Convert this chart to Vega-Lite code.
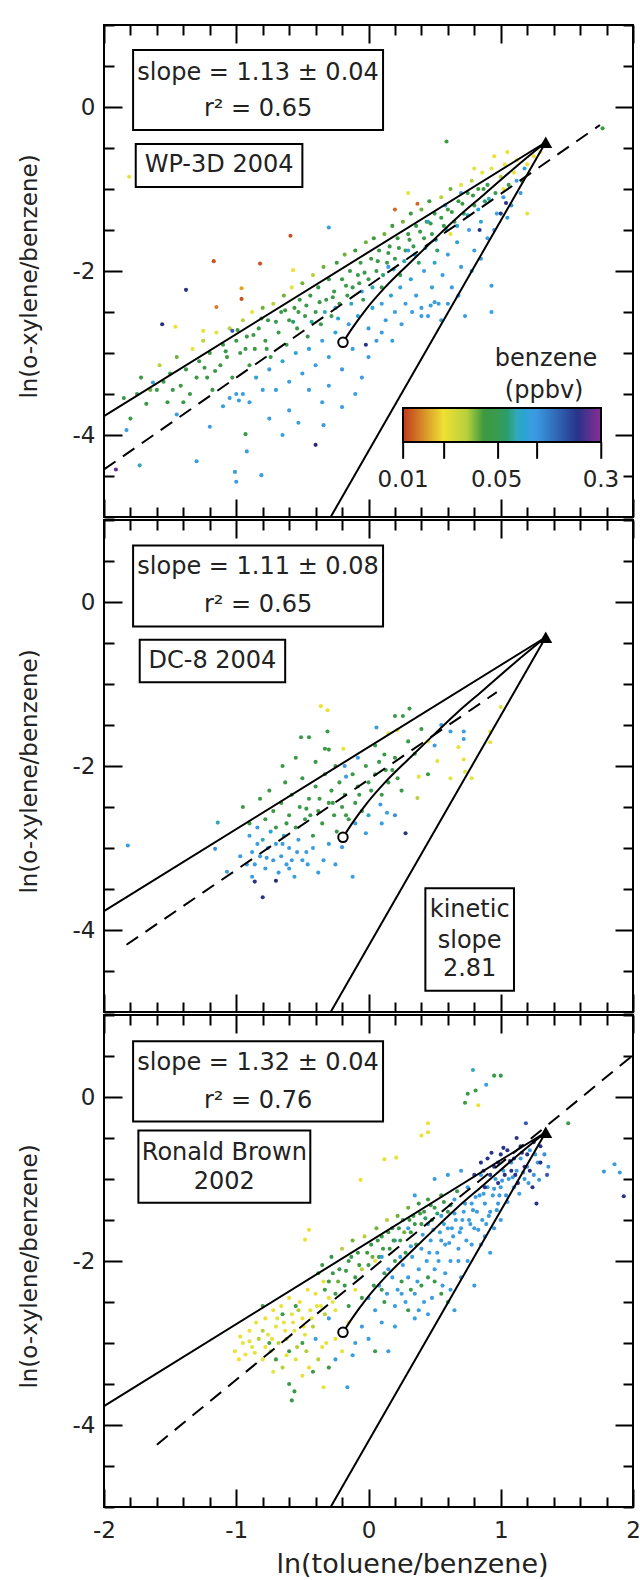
{
  "$schema": "https://vega.github.io/schema/vega-lite/v6.json",
  "padding": {"left": 17, "top": 13, "right": 6, "bottom": 0},
  "background": "white",
  "spacing": 3,
  "bounds": "flush",
  "config": {
    "view": {"stroke": "black", "strokeWidth": 2},
    "font": "DejaVu Sans",
    "axis": {"domain": false, "grid": false, "tickColor": "black", "tickWidth": 2, "labelColor": "#222", "labelFontSize": 23, "titleFontSize": 25, "titleFontWeight": "normal", "titleColor": "#222", "labelOverlap": false, "labelFlush": false},
    "axisLeft": {"titleFontSize": 23, "titleY": 251},
    "axisBottom": {"titleFontSize": 27, "titleX": 308}
  },
  "resolve": {"scale": {"color": "independent"}, "legend": {"color": "independent"}},
  "datasets": {
    "guides": [
      {"id": "mix", "x": -2, "y": -3.77}, {"id": "mix", "x": 1.34, "y": -0.43},
      {"id": "kin", "x": -0.286, "y": -5}, {"id": "kin", "x": 1.34, "y": -0.43}
    ],
    "curve": [
      {"x": -0.193, "y": -2.87}, {"x": -0.12, "y": -2.69}, {"x": -0.02, "y": -2.47}, {"x": 0.125, "y": -2.2},
      {"x": 0.3, "y": -1.92}, {"x": 0.467, "y": -1.66}, {"x": 0.67, "y": -1.35}, {"x": 0.872, "y": -1.07},
      {"x": 1.1, "y": -0.75}, {"x": 1.34, "y": -0.43}
    ],
    "circ": [{"x": -0.193, "y": -2.87}],
    "tri": [{"x": 1.34, "y": -0.43}],
    "dash1": [{"x": -2, "y": -4.42}, {"x": 1.75, "y": -0.22}],
    "dash2": [{"x": -1.83, "y": -4.18}, {"x": 0.97, "y": -1.1}],
    "dash3": [{"x": -1.6, "y": -4.24}, {"x": 2.0, "y": 0.51}],
    "boxes1": [{"x1": -1.78, "x2": 0.11, "y1": 0.695, "y2": -0.28}, {"x1": -1.76, "x2": -0.5, "y1": -0.45, "y2": -0.976}],
    "boxes2": [{"x1": -1.78, "x2": 0.11, "y1": 0.69, "y2": -0.3}, {"x1": -1.73, "x2": -0.63, "y1": -0.46, "y2": -0.98}, {"x1": 0.43, "x2": 1.1, "y1": -3.49, "y2": -4.74}],
    "boxes3": [{"x1": -1.78, "x2": 0.11, "y1": 0.68, "y2": -0.3}, {"x1": -1.74, "x2": -0.44, "y1": -0.41, "y2": -1.29}],
    "texts1": [
      {"x": -0.835, "y": 0.41, "t": "slope = 1.13 ± 0.04"}, {"x": -0.835, "y": -0.03, "t": "r² = 0.65"},
      {"x": -1.13, "y": -0.71, "t": "WP-3D 2004"}, {"x": 1.343, "y": -3.07, "t": "benzene"}, {"x": 1.328, "y": -3.46, "t": "(ppbv)"}
    ],
    "texts2": [
      {"x": -0.835, "y": 0.43, "t": "slope = 1.11 ± 0.08"}, {"x": -0.835, "y": -0.04, "t": "r² = 0.65"},
      {"x": -1.18, "y": -0.72, "t": "DC-8 2004"}, {"x": 0.765, "y": -3.76, "t": "kinetic"}, {"x": 0.765, "y": -4.13, "t": "slope"}, {"x": 0.765, "y": -4.48, "t": "2.81"}
    ],
    "texts3": [
      {"x": -0.835, "y": 0.41, "t": "slope = 1.32 ± 0.04"}, {"x": -0.835, "y": -0.05, "t": "r² = 0.76"},
      {"x": -1.09, "y": -0.68, "t": "Ronald Brown"}, {"x": -1.09, "y": -1.04, "t": "2002"}
    ],
    "cbticks": [
      {"x": 0.262, "y": -4.085, "y2": -4.29}, {"x": 0.572, "y": -4.085, "y2": -4.29}, {"x": 0.98, "y": -4.085, "y2": -4.29},
      {"x": 1.275, "y": -4.085, "y2": -4.29}, {"x": 1.76, "y": -4.085, "y2": -4.29}
    ],
    "p1": [
      {"x":-1.85,"y":-3.55,"b":0.045},{"x":-1.8,"y":-3.8,"b":0.045},{"x":-1.72,"y":-3.3,"b":0.045},{"x":-1.68,"y":-3.62,"b":0.045},{"x":-1.65,"y":-3.45,"b":0.035},
      {"x":-1.58,"y":-3.15,"b":0.03},{"x":-1.55,"y":-3.35,"b":0.045},{"x":-1.52,"y":-3.6,"b":0.045},{"x":-1.5,"y":-3.25,"b":0.045},
      {"x":-1.45,"y":-3.05,"b":0.035},{"x":-1.42,"y":-3.4,"b":0.045},{"x":-1.38,"y":-3.2,"b":0.045},{"x":-1.35,"y":-3.5,"b":0.045},{"x":-1.33,"y":-2.95,"b":0.025},
      {"x":-1.28,"y":-3.1,"b":0.045},{"x":-1.25,"y":-2.85,"b":0.03},{"x":-1.22,"y":-3.3,"b":0.045},{"x":-1.2,"y":-3.0,"b":0.04},{"x":-1.18,"y":-3.45,"b":0.045},{"x":-1.15,"y":-2.75,"b":0.025},
      {"x":-1.12,"y":-3.15,"b":0.045},{"x":-1.1,"y":-2.9,"b":0.045},{"x":-1.07,"y":-3.05,"b":0.04},{"x":-1.05,"y":-2.7,"b":0.03},{"x":-1.03,"y":-3.3,"b":0.045},{"x":-1.0,"y":-2.85,"b":0.045},
      {"x":-0.97,"y":-3.0,"b":0.045},{"x":-0.95,"y":-2.6,"b":0.03},{"x":-0.92,"y":-2.8,"b":0.045},{"x":-0.9,"y":-3.15,"b":0.045},{"x":-0.88,"y":-2.5,"b":0.025},{"x":-0.86,"y":-2.95,"b":0.04},
      {"x":-0.83,"y":-2.7,"b":0.045},{"x":-0.8,"y":-2.45,"b":0.035},{"x":-0.78,"y":-2.85,"b":0.045},{"x":-0.76,"y":-2.6,"b":0.045},{"x":-0.74,"y":-3.05,"b":0.045},{"x":-0.72,"y":-2.4,"b":0.03},
      {"x":-0.68,"y":-2.75,"b":0.045},{"x":-0.66,"y":-2.5,"b":0.045},{"x":-0.64,"y":-2.3,"b":0.035},{"x":-0.62,"y":-2.9,"b":0.045},{"x":-0.6,"y":-2.6,"b":0.045},{"x":-0.58,"y":-2.2,"b":0.025},{"x":-0.56,"y":-2.45,"b":0.045},
      {"x":-0.54,"y":-2.7,"b":0.045},{"x":-0.52,"y":-2.35,"b":0.045},{"x":-0.5,"y":-2.15,"b":0.035},{"x":-0.48,"y":-2.55,"b":0.045},{"x":-0.46,"y":-2.8,"b":0.045},{"x":-0.44,"y":-2.3,"b":0.045},{"x":-0.42,"y":-2.05,"b":0.03},
      {"x":-0.4,"y":-2.5,"b":0.045},{"x":-0.38,"y":-2.2,"b":0.045},{"x":-0.36,"y":-2.65,"b":0.045},{"x":-0.34,"y":-1.95,"b":0.035},{"x":-0.32,"y":-2.35,"b":0.045},{"x":-0.3,"y":-2.1,"b":0.045},{"x":-0.28,"y":-2.55,"b":0.05},
      {"x":-0.26,"y":-2.25,"b":0.045},{"x":-0.24,"y":-1.9,"b":0.04},{"x":-0.22,"y":-2.4,"b":0.045},{"x":-0.2,"y":-2.1,"b":0.045},{"x":-0.18,"y":-1.8,"b":0.035},{"x":-0.16,"y":-2.3,"b":0.05},{"x":-0.14,"y":-2.0,"b":0.045},
      {"x":-0.12,"y":-2.2,"b":0.045},{"x":-0.1,"y":-1.75,"b":0.04},{"x":-0.08,"y":-2.05,"b":0.045},{"x":-0.06,"y":-1.9,"b":0.045},{"x":-0.04,"y":-2.35,"b":0.05},{"x":-0.02,"y":-1.65,"b":0.035},{"x":0.0,"y":-2.1,"b":0.045},
      {"x":0.02,"y":-1.85,"b":0.045},{"x":0.04,"y":-1.6,"b":0.04},{"x":0.06,"y":-2.0,"b":0.045},{"x":0.08,"y":-1.75,"b":0.045},{"x":0.1,"y":-2.2,"b":0.055},{"x":0.12,"y":-1.55,"b":0.035},{"x":0.14,"y":-1.9,"b":0.045},
      {"x":0.16,"y":-1.7,"b":0.045},{"x":0.18,"y":-1.45,"b":0.04},{"x":0.2,"y":-1.85,"b":0.05},{"x":0.22,"y":-1.6,"b":0.045},{"x":0.24,"y":-2.05,"b":0.055},{"x":0.26,"y":-1.4,"b":0.035},{"x":0.28,"y":-1.75,"b":0.045},
      {"x":0.3,"y":-1.55,"b":0.045},{"x":0.32,"y":-1.3,"b":0.04},{"x":0.34,"y":-1.7,"b":0.05},{"x":0.36,"y":-1.45,"b":0.045},{"x":0.38,"y":-1.9,"b":0.06},{"x":0.4,"y":-1.25,"b":0.035},{"x":0.42,"y":-1.6,"b":0.045},
      {"x":0.44,"y":-1.4,"b":0.045},{"x":0.46,"y":-1.15,"b":0.04},{"x":0.48,"y":-1.55,"b":0.05},{"x":0.5,"y":-1.3,"b":0.045},{"x":0.52,"y":-1.75,"b":0.06},{"x":0.55,"y":-1.1,"b":0.03},{"x":0.57,"y":-1.45,"b":0.045},
      {"x":0.6,"y":-1.25,"b":0.045},{"x":0.62,"y":-1.0,"b":0.035},{"x":0.65,"y":-1.4,"b":0.05},{"x":0.68,"y":-1.15,"b":0.045},{"x":0.7,"y":-0.95,"b":0.025},{"x":0.72,"y":-1.3,"b":0.06},
      {"x":0.75,"y":-1.05,"b":0.045},{"x":0.78,"y":-0.9,"b":0.03},{"x":0.8,"y":-1.2,"b":0.05},{"x":0.83,"y":-1.0,"b":0.04},{"x":0.86,"y":-0.8,"b":0.025},{"x":0.88,"y":-1.15,"b":0.06},
      {"x":0.9,"y":-0.95,"b":0.045},{"x":0.93,"y":-0.75,"b":0.025},{"x":0.96,"y":-1.05,"b":0.05},{"x":1.0,"y":-0.85,"b":0.03},{"x":1.03,"y":-0.7,"b":0.022},{"x":1.06,"y":-0.95,"b":0.045},
      {"x":1.1,"y":-0.8,"b":0.025},{"x":1.12,"y":-0.65,"b":0.02},{"x":1.16,"y":-0.9,"b":0.04},{"x":1.2,"y":-0.7,"b":0.022},{"x":1.25,"y":-0.6,"b":0.02},{"x":1.02,"y":-1.0,"b":0.022},
      {"x":-1.05,"y":-3.55,"b":0.09},{"x":-1.0,"y":-3.5,"b":0.09},{"x":-0.98,"y":-3.58,"b":0.09},{"x":-0.95,"y":-3.5,"b":0.09},{"x":-0.9,"y":-3.6,"b":0.09},
      {"x":-0.85,"y":-3.3,"b":0.08},{"x":-0.75,"y":-3.2,"b":0.09},{"x":-0.7,"y":-3.45,"b":0.09},{"x":-0.65,"y":-3.1,"b":0.08},{"x":-0.6,"y":-3.35,"b":0.09},{"x":-0.55,"y":-3.0,"b":0.08},
      {"x":-0.5,"y":-3.25,"b":0.09},{"x":-0.45,"y":-2.95,"b":0.08},{"x":-0.4,"y":-3.15,"b":0.09},{"x":-0.35,"y":-2.85,"b":0.085},{"x":-0.3,"y":-3.05,"b":0.09},{"x":-0.25,"y":-2.75,"b":0.08},
      {"x":-0.2,"y":-3.2,"b":0.1},{"x":-0.15,"y":-2.65,"b":0.085},{"x":-0.12,"y":-2.95,"b":0.09},{"x":-0.08,"y":-2.55,"b":0.08},{"x":-0.05,"y":-3.3,"b":0.09},{"x":0.0,"y":-2.7,"b":0.09},
      {"x":0.03,"y":-2.45,"b":0.08},{"x":0.06,"y":-2.85,"b":0.1},{"x":0.1,"y":-2.4,"b":0.085},{"x":0.13,"y":-2.6,"b":0.09},{"x":0.17,"y":-2.3,"b":0.08},{"x":0.2,"y":-2.5,"b":0.09},
      {"x":0.24,"y":-2.2,"b":0.085},{"x":0.28,"y":-2.4,"b":0.09},{"x":0.32,"y":-2.1,"b":0.08},{"x":0.36,"y":-2.3,"b":0.09},{"x":0.4,"y":-2.45,"b":0.09},{"x":0.42,"y":-2.0,"b":0.085},
      {"x":0.45,"y":-2.55,"b":0.09},{"x":0.48,"y":-2.2,"b":0.09},{"x":0.5,"y":-1.9,"b":0.08},{"x":0.53,"y":-2.4,"b":0.09},{"x":0.56,"y":-2.05,"b":0.09},{"x":0.6,"y":-1.8,"b":0.085},
      {"x":0.63,"y":-2.2,"b":0.09},{"x":0.67,"y":-1.65,"b":0.08},{"x":0.7,"y":-1.95,"b":0.09},{"x":0.73,"y":-2.55,"b":0.09},{"x":0.76,"y":-1.5,"b":0.085},{"x":0.8,"y":-1.75,"b":0.09},
      {"x":0.85,"y":-1.4,"b":0.08},{"x":0.9,"y":-1.6,"b":0.09},{"x":0.93,"y":-2.18,"b":0.09},{"x":0.93,"y":-2.5,"b":0.09},{"x":0.97,"y":-1.3,"b":0.085},{"x":1.02,"y":-1.1,"b":0.09},
      {"x":1.08,"y":-1.2,"b":0.1},{"x":1.12,"y":-0.9,"b":0.085},{"x":1.18,"y":-0.75,"b":0.08},{"x":0.7,"y":-1.05,"b":0.09},{"x":0.58,"y":-1.2,"b":0.09},{"x":0.45,"y":-1.4,"b":0.08},
      {"x":0.3,"y":-1.75,"b":0.085},{"x":0.15,"y":-1.95,"b":0.09},{"x":-0.05,"y":-2.25,"b":0.085},{"x":-0.25,"y":-2.45,"b":0.09},
      {"x":1.04,"y":-1.17,"b":0.2},{"x":1.0,"y":-1.3,"b":0.2},{"x":0.84,"y":-1.5,"b":0.2},{"x":-0.02,"y":-2.9,"b":0.2},{"x":-0.4,"y":-4.12,"b":0.25},{"x":-1.91,"y":-4.42,"b":0.28},
      {"x":-1.38,"y":-2.23,"b":0.2},{"x":-1.56,"y":-2.65,"b":0.22},{"x":-1.03,"y":-2.73,"b":0.15},{"x":0.59,"y":-0.42,"b":0.04},{"x":1.77,"y":-0.26,"b":0.045},{"x":-1.81,"y":-0.85,"b":0.025},
      {"x":0.37,"y":-1.18,"b":0.012},{"x":-0.3,"y":-1.47,"b":0.09},{"x":-0.59,"y":-1.57,"b":0.011},{"x":-1.17,"y":-1.88,"b":0.011},{"x":-0.82,"y":-1.91,"b":0.011},{"x":-0.57,"y":-1.99,"b":0.02},
      {"x":-0.96,"y":-2.21,"b":0.015},{"x":-0.96,"y":-2.34,"b":0.011},{"x":-1.15,"y":-2.44,"b":0.013},{"x":-1.46,"y":-2.68,"b":0.02},{"x":-1.25,"y":-2.73,"b":0.02},{"x":0.2,"y":-1.25,"b":0.012},
      {"x":-1.63,"y":-3.36,"b":0.09},{"x":-1.83,"y":-3.94,"b":0.09},{"x":-1.73,"y":-4.37,"b":0.07},{"x":-1.3,"y":-4.32,"b":0.09},{"x":-1.01,"y":-4.45,"b":0.09},{"x":-1.0,"y":-4.57,"b":0.09},
      {"x":-0.81,"y":-4.49,"b":0.09},{"x":-0.93,"y":-3.99,"b":0.045},{"x":-0.92,"y":-4.2,"b":0.09},{"x":-0.65,"y":-4.0,"b":0.09},{"x":-0.53,"y":-3.85,"b":0.09},{"x":-0.34,"y":-3.88,"b":0.09},
      {"x":-0.2,"y":-3.66,"b":0.09},{"x":-0.6,"y":-3.7,"b":0.085},{"x":-0.3,"y":-3.4,"b":0.09},{"x":-0.1,"y":-3.5,"b":0.09},{"x":-1.2,"y":-3.9,"b":0.085},{"x":-1.45,"y":-3.75,"b":0.09},
      {"x":-0.75,"y":-3.8,"b":0.09},{"x":0.18,"y":-2.85,"b":0.09},{"x":0.4,"y":-2.55,"b":0.09},{"x":0.47,"y":-2.42,"b":0.09},{"x":0.5,"y":-2.38,"b":0.09},{"x":0.55,"y":-2.6,"b":0.09},
      {"x":0.95,"y":-0.6,"b":0.02},{"x":1.05,"y":-0.55,"b":0.02},{"x":1.3,"y":-0.55,"b":0.022},{"x":0.8,"y":-0.75,"b":0.025},{"x":1.2,"y":-1.3,"b":0.025},{"x":0.3,"y":-1.05,"b":0.025},{"x":0.62,"y":-1.55,"b":0.02},
      {"x":-0.7,"y":-2.62,"b":0.05},{"x":-0.63,"y":-2.48,"b":0.045},{"x":-0.57,"y":-2.62,"b":0.06},{"x":-0.53,"y":-2.5,"b":0.045},{"x":-0.47,"y":-2.42,"b":0.05},{"x":-0.43,"y":-2.62,"b":0.065},
      {"x":-0.37,"y":-2.38,"b":0.045},{"x":-0.33,"y":-2.5,"b":0.07},{"x":-0.27,"y":-2.32,"b":0.045},{"x":-0.23,"y":-2.58,"b":0.08},{"x":-0.17,"y":-2.18,"b":0.045},{"x":-0.13,"y":-2.4,"b":0.07},
      {"x":-0.07,"y":-2.15,"b":0.045},{"x":-0.03,"y":-2.02,"b":0.05},{"x":0.03,"y":-2.2,"b":0.07},{"x":0.07,"y":-1.88,"b":0.045},{"x":0.11,"y":-2.05,"b":0.06},{"x":0.15,"y":-1.78,"b":0.045},
      {"x":0.19,"y":-1.98,"b":0.08},{"x":0.23,"y":-1.72,"b":0.045},{"x":0.27,"y":-1.88,"b":0.07},{"x":0.31,"y":-1.62,"b":0.045},{"x":0.35,"y":-1.8,"b":0.08},{"x":0.39,"y":-1.52,"b":0.045},
      {"x":0.43,"y":-1.72,"b":0.07},{"x":0.47,"y":-1.42,"b":0.045},{"x":0.51,"y":-1.62,"b":0.08},{"x":0.55,"y":-1.35,"b":0.045},{"x":0.59,"y":-1.5,"b":0.07},{"x":0.63,"y":-1.28,"b":0.045},
      {"x":0.67,"y":-1.45,"b":0.08},{"x":0.71,"y":-1.18,"b":0.045},{"x":0.75,"y":-1.32,"b":0.07},{"x":0.79,"y":-1.08,"b":0.045},{"x":0.83,"y":-1.25,"b":0.08},{"x":0.87,"y":-1.0,"b":0.04},
      {"x":0.91,"y":-1.12,"b":0.07},{"x":-1.3,"y":-3.3,"b":0.045},{"x":-1.24,"y":-3.18,"b":0.05},{"x":-1.16,"y":-3.22,"b":0.045},{"x":-1.08,"y":-2.98,"b":0.045},{"x":-0.99,"y":-2.72,"b":0.04},
      {"x":-0.93,"y":-2.95,"b":0.05},{"x":-0.87,"y":-2.78,"b":0.045},{"x":-0.81,"y":-2.58,"b":0.04},{"x":-0.77,"y":-2.95,"b":0.05},{"x":-1.6,"y":-3.45,"b":0.045},{"x":-1.48,"y":-3.45,"b":0.05},
      {"x":-1.4,"y":-3.6,"b":0.045},{"x":-1.75,"y":-3.5,"b":0.045},{"x":-0.35,"y":-3.6,"b":0.09},{"x":-0.45,"y":-3.45,"b":0.09},{"x":-0.8,"y":-3.45,"b":0.09},{"x":-1.1,"y":-3.65,"b":0.09},
      {"x":0.0,"y":-3.05,"b":0.09},{"x":0.1,"y":-2.75,"b":0.09},{"x":0.25,"y":-2.65,"b":0.09},{"x":0.33,"y":-2.5,"b":0.09},{"x":0.6,"y":-2.4,"b":0.09},{"x":0.68,"y":-2.3,"b":0.09},
      {"x":0.78,"y":-2.0,"b":0.09},{"x":0.85,"y":-1.85,"b":0.09},{"x":0.95,"y":-1.5,"b":0.09},{"x":1.05,"y":-1.35,"b":0.09},{"x":1.15,"y":-1.05,"b":0.09}
    ],
    "p2": [
      {"x":-0.9,"y":-2.85,"b":0.09},{"x":-0.88,"y":-3.05,"b":0.09},{"x":-0.86,"y":-3.2,"b":0.09},{"x":-0.84,"y":-2.95,"b":0.085},{"x":-0.82,"y":-3.1,"b":0.09},{"x":-0.8,"y":-2.9,"b":0.07},
      {"x":-0.78,"y":-3.25,"b":0.09},{"x":-0.76,"y":-3.0,"b":0.09},{"x":-0.74,"y":-2.8,"b":0.08},{"x":-0.72,"y":-3.15,"b":0.1},{"x":-0.7,"y":-2.95,"b":0.09},{"x":-0.68,"y":-3.3,"b":0.09},
      {"x":-0.66,"y":-3.1,"b":0.09},{"x":-0.64,"y":-2.85,"b":0.08},{"x":-0.62,"y":-3.2,"b":0.09},{"x":-0.6,"y":-3.0,"b":0.09},{"x":-0.58,"y":-3.15,"b":0.09},{"x":-0.56,"y":-3.35,"b":0.09},
      {"x":-0.54,"y":-3.05,"b":0.09},{"x":-0.5,"y":-3.15,"b":0.09},{"x":-0.46,"y":-3.2,"b":0.09},{"x":-0.42,"y":-3.0,"b":0.085},{"x":-0.38,"y":-3.3,"b":0.09},{"x":-0.34,"y":-3.15,"b":0.09},
      {"x":-0.3,"y":-2.95,"b":0.09},{"x":-0.25,"y":-3.2,"b":0.09},{"x":-0.2,"y":-2.99,"b":0.09},{"x":-0.12,"y":-3.35,"b":0.09},{"x":-0.86,"y":-3.41,"b":0.2},{"x":-0.8,"y":-3.6,"b":0.2},
      {"x":-1.07,"y":-3.29,"b":0.09},{"x":-1.16,"y":-3.01,"b":0.12},{"x":-1.14,"y":-2.69,"b":0.07},{"x":-1.82,"y":-2.97,"b":0.09},{"x":-0.88,"y":-3.35,"b":0.09},{"x":-0.92,"y":-3.2,"b":0.09},{"x":-0.7,"y":-3.4,"b":0.25},
      {"x":-0.82,"y":-2.4,"b":0.045},{"x":-0.78,"y":-2.65,"b":0.045},{"x":-0.75,"y":-2.3,"b":0.045},{"x":-0.72,"y":-2.55,"b":0.04},{"x":-0.7,"y":-2.75,"b":0.045},{"x":-0.66,"y":-2.45,"b":0.045},
      {"x":-0.63,"y":-2.2,"b":0.045},{"x":-0.6,"y":-2.6,"b":0.045},{"x":-0.58,"y":-2.35,"b":0.04},{"x":-0.55,"y":-2.75,"b":0.045},{"x":-0.52,"y":-2.5,"b":0.045},{"x":-0.5,"y":-2.15,"b":0.045},
      {"x":-0.48,"y":-2.65,"b":0.045},{"x":-0.45,"y":-2.4,"b":0.05},{"x":-0.42,"y":-2.85,"b":0.045},{"x":-0.4,"y":-2.25,"b":0.045},{"x":-0.38,"y":-2.55,"b":0.045},{"x":-0.35,"y":-2.7,"b":0.045},
      {"x":-0.33,"y":-2.1,"b":0.045},{"x":-0.3,"y":-2.45,"b":0.045},{"x":-0.28,"y":-2.3,"b":0.045},{"x":-0.26,"y":-2.6,"b":0.045},{"x":-0.24,"y":-2.8,"b":0.045},{"x":-0.22,"y":-2.2,"b":0.045},
      {"x":-0.2,"y":-2.5,"b":0.045},{"x":-0.18,"y":-2.35,"b":0.05},{"x":-0.15,"y":-2.65,"b":0.045},{"x":-0.12,"y":-2.1,"b":0.045},{"x":-0.1,"y":-2.45,"b":0.045},{"x":-0.08,"y":-2.25,"b":0.045},
      {"x":-0.05,"y":-2.55,"b":0.045},{"x":-0.02,"y":-2.0,"b":0.045},{"x":0.02,"y":-2.3,"b":0.045},{"x":0.05,"y":-2.1,"b":0.045},{"x":0.08,"y":-1.95,"b":0.045},{"x":0.1,"y":-2.35,"b":0.045},
      {"x":0.12,"y":-1.86,"b":0.045},{"x":0.15,"y":-2.2,"b":0.045},{"x":0.18,"y":-2.05,"b":0.045},{"x":0.2,"y":-1.9,"b":0.045},{"x":0.22,"y":-2.15,"b":0.045},{"x":-0.4,"y":-1.95,"b":0.045},
      {"x":-0.55,"y":-1.9,"b":0.045},{"x":-0.65,"y":-2.0,"b":0.045},{"x":-0.3,"y":-1.8,"b":0.045},{"x":-0.25,"y":-2.0,"b":0.045},{"x":-0.95,"y":-2.5,"b":0.045},{"x":-0.9,"y":-2.7,"b":0.045},
      {"x":-0.36,"y":-1.27,"b":0.02},{"x":-0.31,"y":-1.32,"b":0.02},{"x":-0.51,"y":-1.65,"b":0.045},{"x":-0.45,"y":-1.65,"b":0.045},{"x":-0.31,"y":-1.58,"b":0.045},{"x":-0.33,"y":-1.79,"b":0.045},
      {"x":-0.19,"y":-1.79,"b":0.02},{"x":0.31,"y":-1.3,"b":0.045},{"x":0.2,"y":-1.39,"b":0.045},{"x":0.26,"y":-1.39,"b":0.045},{"x":0.06,"y":-1.53,"b":0.09},{"x":0.22,"y":-1.56,"b":0.025},
      {"x":0.55,"y":-1.5,"b":0.09},{"x":0.62,"y":-1.58,"b":0.09},{"x":0.72,"y":-1.67,"b":0.09},{"x":0.72,"y":-1.58,"b":0.09},{"x":0.68,"y":-1.77,"b":0.022},{"x":0.72,"y":-1.92,"b":0.022},
      {"x":0.92,"y":-1.58,"b":0.025},{"x":0.92,"y":-1.71,"b":0.025},{"x":1.0,"y":-1.28,"b":0.025},{"x":0.52,"y":-1.94,"b":0.025},{"x":0.38,"y":-2.13,"b":0.025},{"x":0.37,"y":-2.39,"b":0.03},
      {"x":0.62,"y":-2.15,"b":0.025},{"x":0.73,"y":-2.07,"b":0.025},{"x":0.78,"y":-2.15,"b":0.025},{"x":0.28,"y":-2.82,"b":0.2},{"x":0.09,"y":-2.47,"b":0.09},{"x":0.14,"y":-2.57,"b":0.09},
      {"x":-0.02,"y":-2.82,"b":0.09},{"x":-0.08,"y":-1.9,"b":0.09},{"x":-0.17,"y":-2.13,"b":0.09},{"x":-0.18,"y":-2.0,"b":0.09},{"x":0.3,"y":-1.7,"b":0.045},{"x":0.35,"y":-1.85,"b":0.045},
      {"x":0.15,"y":-1.6,"b":0.025},{"x":0.05,"y":-1.75,"b":0.045},{"x":0.4,"y":-1.55,"b":0.045},{"x":0.45,"y":-1.7,"b":0.02},{"x":0.1,"y":-2.7,"b":0.09},{"x":-0.1,"y":-2.7,"b":0.09},
      {"x":0.0,"y":-2.6,"b":0.07},{"x":0.25,"y":-2.3,"b":0.045},{"x":0.2,"y":-2.6,"b":0.12},{"x":0.45,"y":-2.1,"b":0.045},{"x":0.5,"y":-1.75,"b":0.09},
      {"x":-0.77,"y":-3.12,"b":0.09},{"x":-0.65,"y":-2.95,"b":0.09},{"x":-0.53,"y":-2.9,"b":0.09},{"x":-0.47,"y":-3.05,"b":0.085},{"x":-0.62,"y":-2.7,"b":0.045},{"x":-0.47,"y":-2.52,"b":0.045},
      {"x":-0.37,"y":-2.4,"b":0.045},{"x":-0.27,"y":-2.45,"b":0.045},{"x":-0.17,"y":-2.6,"b":0.045},{"x":-0.07,"y":-2.35,"b":0.045},{"x":0.0,"y":-2.2,"b":0.045},{"x":0.13,"y":-2.05,"b":0.045},
      {"x":-0.44,"y":-2.6,"b":0.045},{"x":-0.84,"y":-2.75,"b":0.09},{"x":-0.97,"y":-3.1,"b":0.09},{"x":-0.6,"y":-3.25,"b":0.09}
    ],
    "p3": [
      {"x":-1.01,"y":-3.1,"b":0.02},{"x":-0.97,"y":-2.92,"b":0.02},{"x":-0.93,"y":-3.14,"b":0.022},{"x":-0.95,"y":-3.0,"b":0.025},{"x":-0.9,"y":-2.85,"b":0.02},{"x":-0.88,"y":-3.05,"b":0.025},
      {"x":-0.85,"y":-2.75,"b":0.022},{"x":-0.83,"y":-2.95,"b":0.03},{"x":-0.8,"y":-3.2,"b":0.025},{"x":-0.78,"y":-2.7,"b":0.02},{"x":-0.76,"y":-2.9,"b":0.025},{"x":-0.74,"y":-3.1,"b":0.03},
      {"x":-0.72,"y":-2.6,"b":0.022},{"x":-0.7,"y":-2.8,"b":0.025},{"x":-0.68,"y":-3.0,"b":0.03},{"x":-0.66,"y":-2.55,"b":0.02},{"x":-0.64,"y":-2.75,"b":0.025},{"x":-0.62,"y":-2.95,"b":0.03},
      {"x":-0.6,"y":-2.45,"b":0.022},{"x":-0.58,"y":-2.65,"b":0.025},{"x":-0.56,"y":-2.85,"b":0.025},{"x":-0.54,"y":-3.05,"b":0.03},{"x":-0.52,"y":-2.5,"b":0.02},{"x":-0.5,"y":-2.7,"b":0.022},
      {"x":-0.48,"y":-2.9,"b":0.025},{"x":-0.46,"y":-2.35,"b":0.02},{"x":-0.44,"y":-2.6,"b":0.025},{"x":-0.42,"y":-2.8,"b":0.03},{"x":-0.4,"y":-2.4,"b":0.022},{"x":-0.38,"y":-3.2,"b":0.03},
      {"x":-0.36,"y":-2.55,"b":0.025},{"x":-0.34,"y":-2.25,"b":0.02},{"x":-0.32,"y":-3.0,"b":0.025},{"x":-0.3,"y":-2.45,"b":0.02},{"x":-0.55,"y":-3.2,"b":0.025},{"x":-0.65,"y":-3.3,"b":0.03},
      {"x":-0.45,"y":-3.3,"b":0.02},{"x":-0.35,"y":-3.05,"b":0.022},{"x":-0.25,"y":-2.95,"b":0.02},{"x":-0.2,"y":-3.1,"b":0.025},{"x":-0.15,"y":-2.75,"b":0.02},{"x":-0.45,"y":-1.62,"b":0.02},
      {"x":-0.48,"y":-1.74,"b":0.02},{"x":-0.06,"y":-1.01,"b":0.02},{"x":0.12,"y":-0.76,"b":0.022},{"x":0.21,"y":-0.74,"b":0.022},{"x":0.45,"y":-0.32,"b":0.02},{"x":0.45,"y":-0.43,"b":0.02},
      {"x":0.4,"y":-0.47,"b":0.022},{"x":0.83,"y":-0.1,"b":0.02},
      {"x":-0.58,"y":-3.7,"b":0.045},{"x":-0.56,"y":-3.59,"b":0.045},{"x":-0.6,"y":-3.5,"b":0.045},{"x":-0.34,"y":-3.54,"b":0.022},{"x":-0.16,"y":-3.54,"b":0.09},{"x":0.05,"y":-3.1,"b":0.045},
      {"x":-0.7,"y":-3.2,"b":0.045},{"x":-0.6,"y":-3.1,"b":0.045},{"x":-0.5,"y":-3.0,"b":0.045},{"x":-0.42,"y":-3.35,"b":0.045},{"x":-0.3,"y":-3.3,"b":0.045},{"x":-0.2,"y":-2.9,"b":0.045},
      {"x":-0.1,"y":-3.0,"b":0.09},{"x":-0.05,"y":-2.8,"b":0.09},{"x":-0.25,"y":-3.2,"b":0.09},{"x":-0.3,"y":-2.7,"b":0.09},{"x":-0.4,"y":-2.95,"b":0.09},{"x":-0.12,"y":-3.15,"b":0.09},
      {"x":0.0,"y":-2.95,"b":0.09},{"x":-0.65,"y":-2.65,"b":0.045},{"x":-0.55,"y":-2.55,"b":0.045},{"x":-0.8,"y":-2.55,"b":0.045},{"x":-0.75,"y":-3.0,"b":0.045},
      {"x":-0.35,"y":-2.05,"b":0.045},{"x":-0.3,"y":-2.25,"b":0.045},{"x":-0.28,"y":-1.95,"b":0.04},{"x":-0.25,"y":-2.4,"b":0.045},{"x":-0.22,"y":-2.1,"b":0.045},{"x":-0.2,"y":-1.85,"b":0.03},
      {"x":-0.18,"y":-2.3,"b":0.045},{"x":-0.15,"y":-2.0,"b":0.045},{"x":-0.12,"y":-1.75,"b":0.035},{"x":-0.1,"y":-2.2,"b":0.045},{"x":-0.08,"y":-1.9,"b":0.045},{"x":-0.05,"y":-2.45,"b":0.05},
      {"x":-0.03,"y":-1.7,"b":0.03},{"x":0.0,"y":-2.05,"b":0.045},{"x":0.02,"y":-1.8,"b":0.045},{"x":0.04,"y":-2.3,"b":0.05},{"x":0.06,"y":-1.6,"b":0.035},{"x":0.08,"y":-1.95,"b":0.045},
      {"x":0.1,"y":-1.7,"b":0.045},{"x":0.12,"y":-2.15,"b":0.05},{"x":0.14,"y":-1.5,"b":0.03},{"x":0.16,"y":-1.85,"b":0.045},{"x":0.18,"y":-1.6,"b":0.045},{"x":0.2,"y":-2.0,"b":0.05},
      {"x":0.22,"y":-1.45,"b":0.035},{"x":0.24,"y":-1.75,"b":0.045},{"x":0.26,"y":-1.5,"b":0.045},{"x":0.28,"y":-1.9,"b":0.05},{"x":0.3,"y":-1.35,"b":0.035},{"x":0.32,"y":-1.65,"b":0.045},
      {"x":0.34,"y":-1.45,"b":0.045},{"x":0.36,"y":-1.8,"b":0.05},{"x":0.38,"y":-1.3,"b":0.04},{"x":0.4,"y":-1.55,"b":0.045},{"x":0.42,"y":-1.4,"b":0.045},{"x":0.45,"y":-1.25,"b":0.04},
      {"x":0.48,"y":-1.5,"b":0.045},{"x":0.5,"y":-1.35,"b":0.05},{"x":0.55,"y":-1.2,"b":0.045},{"x":0.6,"y":-1.4,"b":0.05},{"x":0.25,"y":-2.25,"b":0.045},{"x":0.32,"y":-2.35,"b":0.045},
      {"x":0.4,"y":-2.3,"b":0.045},{"x":0.45,"y":-2.2,"b":0.045},{"x":0.5,"y":-2.25,"b":0.045},{"x":0.12,"y":-2.5,"b":0.045},{"x":-0.15,"y":-2.55,"b":0.045},{"x":0.1,"y":-2.35,"b":0.05},
      {"x":-0.05,"y":-2.1,"b":0.03},{"x":-0.25,"y":-2.6,"b":0.025},{"x":-0.1,"y":-2.35,"b":0.02},{"x":0.05,"y":-2.0,"b":0.025},
      {"x":0.0,"y":-2.45,"b":0.09},{"x":0.05,"y":-2.6,"b":0.09},{"x":0.08,"y":-2.3,"b":0.085},{"x":0.1,"y":-2.75,"b":0.09},{"x":0.14,"y":-2.4,"b":0.09},{"x":0.18,"y":-2.2,"b":0.085},
      {"x":0.2,"y":-2.55,"b":0.09},{"x":0.22,"y":-2.35,"b":0.09},{"x":0.26,"y":-2.05,"b":0.085},{"x":0.28,"y":-2.5,"b":0.09},{"x":0.3,"y":-2.2,"b":0.09},{"x":0.33,"y":-1.95,"b":0.085},
      {"x":0.35,"y":-2.4,"b":0.09},{"x":0.38,"y":-2.1,"b":0.09},{"x":0.4,"y":-1.85,"b":0.085},{"x":0.42,"y":-2.5,"b":0.09},{"x":0.44,"y":-2.0,"b":0.09},{"x":0.47,"y":-1.75,"b":0.085},
      {"x":0.5,"y":-2.1,"b":0.09},{"x":0.52,"y":-1.9,"b":0.09},{"x":0.54,"y":-1.65,"b":0.085},{"x":0.56,"y":-2.3,"b":0.09},{"x":0.58,"y":-1.8,"b":0.09},{"x":0.6,"y":-1.6,"b":0.085},
      {"x":0.62,"y":-2.0,"b":0.09},{"x":0.64,"y":-1.7,"b":0.09},{"x":0.66,"y":-1.5,"b":0.085},{"x":0.68,"y":-1.85,"b":0.09},{"x":0.7,"y":-1.6,"b":0.09},{"x":0.72,"y":-1.4,"b":0.085},
      {"x":0.74,"y":-1.75,"b":0.09},{"x":0.76,"y":-1.5,"b":0.09},{"x":0.78,"y":-1.3,"b":0.085},{"x":0.8,"y":-1.6,"b":0.09},{"x":0.82,"y":-1.4,"b":0.09},{"x":0.84,"y":-1.2,"b":0.085},
      {"x":0.86,"y":-1.5,"b":0.09},{"x":0.88,"y":-1.3,"b":0.1},{"x":0.9,"y":-1.1,"b":0.09},{"x":0.92,"y":-1.4,"b":0.1},{"x":0.94,"y":-1.2,"b":0.09},{"x":0.96,"y":-1.0,"b":0.09},
      {"x":0.98,"y":-1.3,"b":0.1},{"x":1.0,"y":-1.1,"b":0.09},{"x":1.02,"y":-0.9,"b":0.09},{"x":1.04,"y":-1.2,"b":0.1},{"x":1.06,"y":-1.0,"b":0.09},{"x":1.08,"y":-0.8,"b":0.09},
      {"x":1.1,"y":-1.1,"b":0.1},{"x":1.12,"y":-0.9,"b":0.09},{"x":1.15,"y":-0.75,"b":0.09},{"x":1.18,"y":-1.0,"b":0.1},{"x":1.2,"y":-0.85,"b":0.09},{"x":1.22,"y":-0.65,"b":0.09},
      {"x":1.25,"y":-0.95,"b":0.1},{"x":1.28,"y":-0.8,"b":0.09},{"x":0.3,"y":-1.6,"b":0.09},{"x":0.45,"y":-1.55,"b":0.09},{"x":0.55,"y":-1.45,"b":0.09},{"x":0.65,"y":-1.25,"b":0.09},
      {"x":0.75,"y":-1.1,"b":0.09},{"x":0.85,"y":-0.95,"b":0.09},{"x":0.2,"y":-1.75,"b":0.09},{"x":0.1,"y":-1.95,"b":0.09},{"x":0.35,"y":-1.2,"b":0.09},{"x":0.5,"y":-1.0,"b":0.09},
      {"x":0.6,"y":-0.95,"b":0.09},{"x":0.7,"y":-0.9,"b":0.09},{"x":0.62,"y":-2.35,"b":0.09},{"x":0.7,"y":-2.2,"b":0.09},{"x":0.45,"y":-2.65,"b":0.09},{"x":0.3,"y":-2.6,"b":0.045},
      {"x":0.55,"y":-2.4,"b":0.045},{"x":0.6,"y":-2.5,"b":0.045},{"x":0.35,"y":-2.7,"b":0.09},{"x":0.2,"y":-2.8,"b":0.09},{"x":0.15,"y":-3.1,"b":0.09},{"x":0.75,"y":-2.0,"b":0.09},
      {"x":0.85,"y":-1.8,"b":0.09},{"x":0.95,"y":-1.6,"b":0.09},{"x":1.0,"y":-1.5,"b":0.09},{"x":0.8,"y":-2.3,"b":0.09},{"x":0.92,"y":-1.9,"b":0.09},{"x":0.65,"y":-2.6,"b":0.09},
      {"x":0.85,"y":-0.8,"b":0.2},{"x":0.9,"y":-0.75,"b":0.2},{"x":0.95,"y":-0.85,"b":0.22},{"x":1.0,"y":-0.7,"b":0.2},{"x":1.05,"y":-0.65,"b":0.2},{"x":1.1,"y":-0.75,"b":0.22},
      {"x":1.15,"y":-0.6,"b":0.2},{"x":1.2,"y":-0.7,"b":0.2},{"x":1.25,"y":-0.55,"b":0.22},{"x":1.3,"y":-0.6,"b":0.2},{"x":0.92,"y":-0.95,"b":0.2},{"x":0.98,"y":-1.05,"b":0.2},
      {"x":1.03,"y":-0.95,"b":0.22},{"x":1.08,"y":-0.9,"b":0.2},{"x":1.13,"y":-1.05,"b":0.2},{"x":1.18,"y":-0.85,"b":0.22},{"x":1.24,"y":-1.1,"b":0.2},{"x":1.27,"y":-1.3,"b":0.2},
      {"x":1.19,"y":-0.32,"b":0.15},{"x":0.8,"y":-0.95,"b":0.18},{"x":0.88,"y":-1.1,"b":0.2},{"x":1.12,"y":-0.5,"b":0.2},{"x":1.3,"y":-0.8,"b":0.2},{"x":1.35,"y":-0.95,"b":0.15},{"x":1.33,"y":-0.7,"b":0.12},
      {"x":0.79,"y":0.33,"b":0.07},{"x":0.89,"y":0.15,"b":0.09},{"x":0.95,"y":0.26,"b":0.045},{"x":1.0,"y":0.26,"b":0.045},{"x":0.75,"y":0.04,"b":0.045},{"x":0.81,"y":0.08,"b":0.045},
      {"x":0.73,"y":-0.07,"b":0.045},{"x":1.51,"y":-0.32,"b":0.045},{"x":1.78,"y":-0.91,"b":0.09},{"x":1.86,"y":-0.82,"b":0.09},{"x":1.9,"y":-0.92,"b":0.09},{"x":1.93,"y":-1.21,"b":0.2},
      {"x":1.29,"y":-1.01,"b":0.09},{"x":1.36,"y":-0.85,"b":0.09},
      {"x":-0.38,"y":-2.15,"b":0.045},{"x":-0.33,"y":-2.35,"b":0.04},{"x":-0.27,"y":-2.15,"b":0.045},{"x":-0.23,"y":-2.25,"b":0.035},{"x":-0.17,"y":-2.12,"b":0.045},{"x":-0.13,"y":-1.95,"b":0.045},
      {"x":-0.07,"y":-2.05,"b":0.04},{"x":-0.01,"y":-1.9,"b":0.045},{"x":0.03,"y":-1.95,"b":0.035},{"x":0.07,"y":-1.75,"b":0.045},{"x":0.11,"y":-1.85,"b":0.045},{"x":0.15,"y":-1.65,"b":0.04},
      {"x":0.19,"y":-1.75,"b":0.045},{"x":0.23,"y":-1.6,"b":0.045},{"x":0.27,"y":-1.65,"b":0.035},{"x":0.31,"y":-1.5,"b":0.045},{"x":0.35,"y":-1.55,"b":0.045},{"x":0.39,"y":-1.42,"b":0.04},
      {"x":0.43,"y":-1.48,"b":0.06},{"x":0.47,"y":-1.32,"b":0.045},{"x":0.52,"y":-1.42,"b":0.06},{"x":0.57,"y":-1.28,"b":0.045},{"x":0.62,"y":-1.32,"b":0.06},{"x":0.67,"y":-1.15,"b":0.05},
      {"x":-0.98,"y":-3.2,"b":0.02},{"x":-0.9,"y":-2.98,"b":0.022},{"x":-0.86,"y":-3.12,"b":0.025},{"x":-0.8,"y":-2.85,"b":0.03},{"x":-0.73,"y":-2.95,"b":0.022},{"x":-0.69,"y":-2.7,"b":0.025},
      {"x":-0.63,"y":-2.85,"b":0.02},{"x":-0.57,"y":-2.75,"b":0.025},{"x":-0.53,"y":-2.6,"b":0.03},{"x":-0.49,"y":-2.8,"b":0.02},{"x":-0.43,"y":-2.7,"b":0.025},{"x":-0.39,"y":-2.55,"b":0.022},
      {"x":-0.33,"y":-2.65,"b":0.03},{"x":-0.27,"y":-2.5,"b":0.025},{"x":-0.47,"y":-3.1,"b":0.03},{"x":-0.62,"y":-3.15,"b":0.025},{"x":-0.78,"y":-3.05,"b":0.02},{"x":-0.72,"y":-3.35,"b":0.025},
      {"x":-0.5,"y":-3.4,"b":0.022},
      {"x":0.15,"y":-2.1,"b":0.09},{"x":0.24,"y":-1.95,"b":0.09},{"x":0.32,"y":-1.82,"b":0.085},{"x":0.37,"y":-2.25,"b":0.09},{"x":0.41,"y":-1.68,"b":0.09},{"x":0.46,"y":-1.9,"b":0.085},
      {"x":0.49,"y":-1.62,"b":0.09},{"x":0.53,"y":-2.0,"b":0.09},{"x":0.57,"y":-1.55,"b":0.085},{"x":0.61,"y":-1.78,"b":0.09},{"x":0.65,"y":-1.42,"b":0.09},{"x":0.69,"y":-1.65,"b":0.085},
      {"x":0.73,"y":-1.3,"b":0.09},{"x":0.77,"y":-1.55,"b":0.09},{"x":0.81,"y":-1.22,"b":0.085},{"x":0.83,"y":-1.62,"b":0.09},{"x":0.87,"y":-1.18,"b":0.09},{"x":0.91,"y":-1.45,"b":0.085},
      {"x":0.95,"y":-1.12,"b":0.09},{"x":0.97,"y":-1.38,"b":0.09},{"x":1.01,"y":-1.02,"b":0.085},{"x":1.05,"y":-1.28,"b":0.09},{"x":1.09,"y":-0.98,"b":0.09},{"x":1.14,"y":-1.18,"b":0.085},
      {"x":1.17,"y":-0.92,"b":0.09},{"x":1.21,"y":-1.05,"b":0.09},{"x":1.26,"y":-0.7,"b":0.09},{"x":0.55,"y":-1.75,"b":0.09},{"x":0.63,"y":-1.6,"b":0.09},{"x":0.71,"y":-1.5,"b":0.09},
      {"x":0.79,"y":-1.38,"b":0.09},{"x":0.89,"y":-1.55,"b":0.09},{"x":0.99,"y":-1.2,"b":0.09},{"x":0.25,"y":-2.4,"b":0.09},{"x":0.38,"y":-2.6,"b":0.09},{"x":0.48,"y":-2.45,"b":0.09},
      {"x":0.58,"y":-2.15,"b":0.09},{"x":0.68,"y":-2.0,"b":0.09},{"x":0.78,"y":-1.8,"b":0.09},{"x":0.88,"y":-1.7,"b":0.09},
      {"x":0.93,"y":-0.68,"b":0.2},{"x":0.98,"y":-0.8,"b":0.2},{"x":1.07,"y":-0.78,"b":0.2},{"x":1.16,"y":-0.68,"b":0.2},{"x":1.22,"y":-0.9,"b":0.2},{"x":1.02,"y":-0.62,"b":0.2},
      {"x":0.87,"y":-0.9,"b":0.2},{"x":1.11,"y":-0.95,"b":0.2}
    ]
  },
  "vconcat": [
    {
      "width": 529, "height": 492,
      "resolve": {"axis": {"x": "independent", "y": "independent"}},
      "layer": [
        {"data": {"name": "p1"}, "mark": {"type": "circle", "size": 17, "opacity": 1},
         "encoding": {
           "x": {"field": "x", "type": "quantitative", "scale": {"domain": [-2, 2], "nice": false, "zero": false},
                 "axis": {"orient": "bottom", "title": null, "labels": false, "values": [-2,-1.8,-1.6,-1.4,-1.2,-1,-0.8,-0.6,-0.4,-0.2,0,0.2,0.4,0.6,0.8,1,1.2,1.4,1.6,1.8,2],
                          "tickSize": {"condition": {"test": "datum.value % 1 === 0", "value": -18}, "value": -10}}},
           "y": {"field": "y", "type": "quantitative", "scale": {"domain": [-5, 1], "nice": false, "zero": false},
                 "axis": {"orient": "left", "title": "ln(o-xylene/benzene)", "values": [-5,-4.5,-4,-3.5,-3,-2.5,-2,-1.5,-1,-0.5,0,0.5,1],
                          "labelExpr": "datum.value % 2 === 0 ? '' + datum.value : ''", "labelPadding": 27, "titlePadding": 31,
                          "tickSize": {"condition": {"test": "datum.value % 2 === 0", "value": -18}, "value": -10}}},
           "color": {"field": "b", "type": "quantitative",
                     "scale": {"type": "log", "domain": [0.01, 0.013, 0.019, 0.025, 0.032, 0.038, 0.058, 0.068, 0.085, 0.12, 0.15, 0.2, 0.25, 0.3],
                               "range": ["#c0391c", "#e07a28", "#f0e030", "#e4e43e", "#a8c83c", "#3e9a3c", "#3a9a58", "#3aa8b0", "#3ca0e0", "#3a8ee0", "#3a58b8", "#28348a", "#2a2a72", "#8a2c92"], "clamp": true},
                     "legend": {"orient": "none", "legendX": 299, "legendY": 383, "direction": "horizontal", "title": null, "padding": 0,
                                "gradientLength": 198, "gradientThickness": 34, "gradientStrokeColor": "black", "gradientStrokeWidth": 2,
                                "values": [0.01001, 0.05, 0.2998], "format": ".2~f", "labelFontSize": 23, "labelColor": "#222", "labelOffset": 27, "labelOverlap": false}}
         }},
        {"data": {"name": "dash1"}, "mark": {"type": "line", "color": "black", "strokeWidth": 2, "strokeDash": [14, 9]},
         "encoding": {"x": {"field": "x", "type": "quantitative", "axis": null}, "y": {"field": "y", "type": "quantitative", "axis": null}}},
        {"data": {"name": "guides"}, "mark": {"type": "line", "color": "black", "strokeWidth": 2},
         "encoding": {"x": {"field": "x", "type": "quantitative", "axis": null}, "y": {"field": "y", "type": "quantitative", "axis": null}, "detail": {"field": "id"}}},
        {"data": {"name": "curve"}, "mark": {"type": "line", "color": "black", "strokeWidth": 2, "interpolate": "monotone"},
         "encoding": {"x": {"field": "x", "type": "quantitative", "axis": null}, "y": {"field": "y", "type": "quantitative", "axis": null}}},
        {"data": {"name": "boxes1"}, "mark": {"type": "rect", "fill": "white", "stroke": "black", "strokeWidth": 2},
         "encoding": {"x": {"field": "x1", "type": "quantitative", "axis": null}, "x2": {"field": "x2"}, "y": {"field": "y1", "type": "quantitative", "axis": null}, "y2": {"field": "y2"}}},
        {"data": {"name": "cbticks"}, "mark": {"type": "rule", "color": "black", "strokeWidth": 2},
         "encoding": {"x": {"field": "x", "type": "quantitative", "axis": null}, "y": {"field": "y", "type": "quantitative", "axis": null}, "y2": {"field": "y2"}}},
        {"data": {"name": "texts1"}, "mark": {"type": "text", "fontSize": 24, "color": "#222"},
         "encoding": {"x": {"field": "x", "type": "quantitative", "axis": null}, "y": {"field": "y", "type": "quantitative", "axis": null}, "text": {"field": "t"}}},
        {"data": {"name": "circ"}, "mark": {"type": "point", "shape": "circle", "filled": true, "fill": "white", "stroke": "black", "strokeWidth": 2, "size": 90, "opacity": 1},
         "encoding": {"x": {"field": "x", "type": "quantitative", "axis": null}, "y": {"field": "y", "type": "quantitative", "axis": null}}},
        {"data": {"name": "tri"}, "mark": {"type": "point", "shape": "triangle-up", "filled": true, "color": "black", "size": 170, "opacity": 1},
         "encoding": {
           "x": {"field": "x", "type": "quantitative", "axis": {"orient": "top", "title": null, "labels": false, "values": [-2,-1.8,-1.6,-1.4,-1.2,-1,-0.8,-0.6,-0.4,-0.2,0,0.2,0.4,0.6,0.8,1,1.2,1.4,1.6,1.8,2],
                          "tickSize": {"condition": {"test": "datum.value % 1 === 0", "value": -18}, "value": -10}}},
           "y": {"field": "y", "type": "quantitative", "axis": {"orient": "right", "title": null, "labels": false, "values": [-5,-4.5,-4,-3.5,-3,-2.5,-2,-1.5,-1,-0.5,0,0.5,1],
                          "tickSize": {"condition": {"test": "datum.value % 2 === 0", "value": -18}, "value": -10}}}
         }}
      ]
    },
    {
      "width": 529, "height": 492,
      "resolve": {"axis": {"x": "independent", "y": "independent"}},
      "layer": [
        {"data": {"name": "p2"}, "mark": {"type": "circle", "size": 17, "opacity": 1},
         "encoding": {
           "x": {"field": "x", "type": "quantitative", "scale": {"domain": [-2, 2], "nice": false, "zero": false},
                 "axis": {"orient": "bottom", "title": null, "labels": false, "values": [-2,-1.8,-1.6,-1.4,-1.2,-1,-0.8,-0.6,-0.4,-0.2,0,0.2,0.4,0.6,0.8,1,1.2,1.4,1.6,1.8,2],
                          "tickSize": {"condition": {"test": "datum.value % 1 === 0", "value": -18}, "value": -10}}},
           "y": {"field": "y", "type": "quantitative", "scale": {"domain": [-5, 1], "nice": false, "zero": false},
                 "axis": {"orient": "left", "title": "ln(o-xylene/benzene)", "values": [-5,-4.5,-4,-3.5,-3,-2.5,-2,-1.5,-1,-0.5,0,0.5,1],
                          "labelExpr": "datum.value % 2 === 0 ? '' + datum.value : ''", "labelPadding": 27, "titlePadding": 31,
                          "tickSize": {"condition": {"test": "datum.value % 2 === 0", "value": -18}, "value": -10}}},
           "color": {"field": "b", "type": "quantitative",
                     "scale": {"type": "log", "domain": [0.01, 0.013, 0.019, 0.025, 0.032, 0.038, 0.058, 0.068, 0.085, 0.12, 0.15, 0.2, 0.25, 0.3],
                               "range": ["#c0391c", "#e07a28", "#f0e030", "#e4e43e", "#a8c83c", "#3e9a3c", "#3a9a58", "#3aa8b0", "#3ca0e0", "#3a8ee0", "#3a58b8", "#28348a", "#2a2a72", "#8a2c92"], "clamp": true},
                     "legend": null}
         }},
        {"data": {"name": "dash2"}, "mark": {"type": "line", "color": "black", "strokeWidth": 2, "strokeDash": [14, 9]},
         "encoding": {"x": {"field": "x", "type": "quantitative", "axis": null}, "y": {"field": "y", "type": "quantitative", "axis": null}}},
        {"data": {"name": "guides"}, "mark": {"type": "line", "color": "black", "strokeWidth": 2},
         "encoding": {"x": {"field": "x", "type": "quantitative", "axis": null}, "y": {"field": "y", "type": "quantitative", "axis": null}, "detail": {"field": "id"}}},
        {"data": {"name": "curve"}, "mark": {"type": "line", "color": "black", "strokeWidth": 2, "interpolate": "monotone"},
         "encoding": {"x": {"field": "x", "type": "quantitative", "axis": null}, "y": {"field": "y", "type": "quantitative", "axis": null}}},
        {"data": {"name": "boxes2"}, "mark": {"type": "rect", "fill": "white", "stroke": "black", "strokeWidth": 2},
         "encoding": {"x": {"field": "x1", "type": "quantitative", "axis": null}, "x2": {"field": "x2"}, "y": {"field": "y1", "type": "quantitative", "axis": null}, "y2": {"field": "y2"}}},
        {"data": {"name": "texts2"}, "mark": {"type": "text", "fontSize": 24, "color": "#222"},
         "encoding": {"x": {"field": "x", "type": "quantitative", "axis": null}, "y": {"field": "y", "type": "quantitative", "axis": null}, "text": {"field": "t"}}},
        {"data": {"name": "circ"}, "mark": {"type": "point", "shape": "circle", "filled": true, "fill": "white", "stroke": "black", "strokeWidth": 2, "size": 90, "opacity": 1},
         "encoding": {"x": {"field": "x", "type": "quantitative", "axis": null}, "y": {"field": "y", "type": "quantitative", "axis": null}}},
        {"data": {"name": "tri"}, "mark": {"type": "point", "shape": "triangle-up", "filled": true, "color": "black", "size": 170, "opacity": 1},
         "encoding": {
           "x": {"field": "x", "type": "quantitative", "axis": {"orient": "top", "title": null, "labels": false, "values": [-2,-1.8,-1.6,-1.4,-1.2,-1,-0.8,-0.6,-0.4,-0.2,0,0.2,0.4,0.6,0.8,1,1.2,1.4,1.6,1.8,2],
                          "tickSize": {"condition": {"test": "datum.value % 1 === 0", "value": -18}, "value": -10}}},
           "y": {"field": "y", "type": "quantitative", "axis": {"orient": "right", "title": null, "labels": false, "values": [-5,-4.5,-4,-3.5,-3,-2.5,-2,-1.5,-1,-0.5,0,0.5,1],
                          "tickSize": {"condition": {"test": "datum.value % 2 === 0", "value": -18}, "value": -10}}}
         }}
      ]
    },
    {
      "width": 529, "height": 492,
      "resolve": {"axis": {"x": "independent", "y": "independent"}},
      "layer": [
        {"data": {"name": "p3"}, "mark": {"type": "circle", "size": 17, "opacity": 1},
         "encoding": {
           "x": {"field": "x", "type": "quantitative", "scale": {"domain": [-2, 2], "nice": false, "zero": false},
                 "axis": {"orient": "bottom", "title": "ln(toluene/benzene)", "values": [-2,-1.8,-1.6,-1.4,-1.2,-1,-0.8,-0.6,-0.4,-0.2,0,0.2,0.4,0.6,0.8,1,1.2,1.4,1.6,1.8,2],
                          "labelExpr": "datum.value % 1 === 0 ? '' + datum.value : ''", "labelPadding": 30, "titlePadding": 1,
                          "tickSize": {"condition": {"test": "datum.value % 1 === 0", "value": -18}, "value": -10}}},
           "y": {"field": "y", "type": "quantitative", "scale": {"domain": [-5, 1], "nice": false, "zero": false},
                 "axis": {"orient": "left", "title": "ln(o-xylene/benzene)", "values": [-5,-4.5,-4,-3.5,-3,-2.5,-2,-1.5,-1,-0.5,0,0.5,1],
                          "labelExpr": "datum.value % 2 === 0 ? '' + datum.value : ''", "labelPadding": 27, "titlePadding": 31,
                          "tickSize": {"condition": {"test": "datum.value % 2 === 0", "value": -18}, "value": -10}}},
           "color": {"field": "b", "type": "quantitative",
                     "scale": {"type": "log", "domain": [0.01, 0.013, 0.019, 0.025, 0.032, 0.038, 0.058, 0.068, 0.085, 0.12, 0.15, 0.2, 0.25, 0.3],
                               "range": ["#c0391c", "#e07a28", "#f0e030", "#e4e43e", "#a8c83c", "#3e9a3c", "#3a9a58", "#3aa8b0", "#3ca0e0", "#3a8ee0", "#3a58b8", "#28348a", "#2a2a72", "#8a2c92"], "clamp": true},
                     "legend": null}
         }},
        {"data": {"name": "dash3"}, "mark": {"type": "line", "color": "black", "strokeWidth": 2, "strokeDash": [14, 9]},
         "encoding": {"x": {"field": "x", "type": "quantitative", "axis": null}, "y": {"field": "y", "type": "quantitative", "axis": null}}},
        {"data": {"name": "guides"}, "mark": {"type": "line", "color": "black", "strokeWidth": 2},
         "encoding": {"x": {"field": "x", "type": "quantitative", "axis": null}, "y": {"field": "y", "type": "quantitative", "axis": null}, "detail": {"field": "id"}}},
        {"data": {"name": "curve"}, "mark": {"type": "line", "color": "black", "strokeWidth": 2, "interpolate": "monotone"},
         "encoding": {"x": {"field": "x", "type": "quantitative", "axis": null}, "y": {"field": "y", "type": "quantitative", "axis": null}}},
        {"data": {"name": "boxes3"}, "mark": {"type": "rect", "fill": "white", "stroke": "black", "strokeWidth": 2},
         "encoding": {"x": {"field": "x1", "type": "quantitative", "axis": null}, "x2": {"field": "x2"}, "y": {"field": "y1", "type": "quantitative", "axis": null}, "y2": {"field": "y2"}}},
        {"data": {"name": "texts3"}, "mark": {"type": "text", "fontSize": 24, "color": "#222"},
         "encoding": {"x": {"field": "x", "type": "quantitative", "axis": null}, "y": {"field": "y", "type": "quantitative", "axis": null}, "text": {"field": "t"}}},
        {"data": {"name": "circ"}, "mark": {"type": "point", "shape": "circle", "filled": true, "fill": "white", "stroke": "black", "strokeWidth": 2, "size": 90, "opacity": 1},
         "encoding": {"x": {"field": "x", "type": "quantitative", "axis": null}, "y": {"field": "y", "type": "quantitative", "axis": null}}},
        {"data": {"name": "tri"}, "mark": {"type": "point", "shape": "triangle-up", "filled": true, "color": "black", "size": 170, "opacity": 1},
         "encoding": {
           "x": {"field": "x", "type": "quantitative", "axis": {"orient": "top", "title": null, "labels": false, "values": [-2,-1.8,-1.6,-1.4,-1.2,-1,-0.8,-0.6,-0.4,-0.2,0,0.2,0.4,0.6,0.8,1,1.2,1.4,1.6,1.8,2],
                          "tickSize": {"condition": {"test": "datum.value % 1 === 0", "value": -18}, "value": -10}}},
           "y": {"field": "y", "type": "quantitative", "axis": {"orient": "right", "title": null, "labels": false, "values": [-5,-4.5,-4,-3.5,-3,-2.5,-2,-1.5,-1,-0.5,0,0.5,1],
                          "tickSize": {"condition": {"test": "datum.value % 2 === 0", "value": -18}, "value": -10}}}
         }}
      ]
    }
  ]
}
